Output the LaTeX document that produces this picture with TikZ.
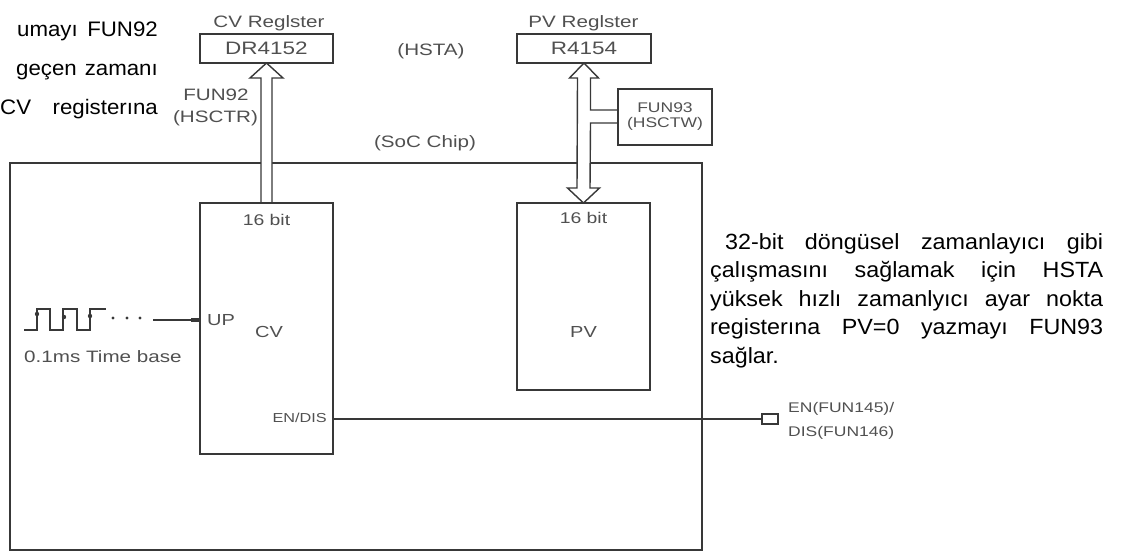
\documentclass[tikz,border=0pt]{standalone}
\usepackage{fontspec}
\setmainfont{Liberation Sans}
\newfontfamily\bodyfont{Liberation Sans}[FakeStretch=1.06]
\newfontfamily\labfont{Liberation Sans}[FakeStretch=1.25]
\usetikzlibrary{calc}
\definecolor{ln}{HTML}{383838}
\definecolor{lab}{HTML}{505050}
\tikzset{
  blk/.style={draw=ln, line width=1.4pt, rectangle, inner sep=0pt, outer sep=0pt, anchor=north west},
  lab/.style={text=lab, inner sep=0pt, font=\labfont\fontsize{#1}{#1}\selectfont},
  lab/.default=16.5,
  body/.style={text=black, inner sep=0pt, font=\bodyfont\fontsize{22}{28}\selectfont},
  lbody/.style={text=black, inner sep=0pt, font=\bodyfont\fontsize{21}{28}\selectfont},
  wire/.style={draw=ln, line width=1.4pt},
  hollow/.style={draw=ln, line width=1.4pt, fill=white, line join=miter},
}
\begin{document}
\begin{tikzpicture}[x=1pt,y=-1pt]
\useasboundingbox (0,0) rectangle (1124,552);

% outer chip
\node[blk, minimum width=692pt, minimum height=387pt] (soc) at (10,163) {};

% registers
\node[blk, minimum width=133pt, minimum height=29pt, lab=18] (cvreg) at (200,34) {DR4152};
\node[blk, minimum width=134pt, minimum height=29pt, lab=18] (pvreg) at (517,34) {R4154};
\node[blk, minimum width=94pt, minimum height=56pt, lab=14, align=center] (fun93) at (618,89) {FUN93\\[1pt](HSCTW)};

% block top anchors
\coordinate (cvtop) at (266.5,203);
\coordinate (pvtop) at (583.5,203);

% CV hollow arrow up
\draw[hollow] ($(cvtop)+(-5.5,0)$) -- ($(cvreg.south)+(-5.5,15)$) -- ($(cvreg.south)+(-16.5,15)$) -- (cvreg.south) -- ($(cvreg.south)+(16.5,15)$) -- ($(cvreg.south)+(5.5,15)$) -- ($(cvtop)+(5.5,0)$);

% PV double hollow arrow with branch to FUN93
\draw[hollow] ($(pvtop)+(-6.5,-15)$) -- ($(pvreg.south)+(-6.5,15)$) -- ($(pvreg.south)+(-14.5,15)$) -- (pvreg.south) -- ($(pvreg.south)+(14.5,15)$) -- ($(pvreg.south)+(6.5,15)$) -- ($(pvreg.south)+(6.5,47)$) -- ($(fun93.north west)+(0,21)$) -- ($(fun93.north west)+(0,34)$) -- ($(pvreg.south)+(6.5,60)$) -- ($(pvtop)+(6.5,-15)$) -- ($(pvtop)+(16,-15)$) -- (pvtop) -- ($(pvtop)+(-16,-15)$) -- cycle;
\draw[ln, line width=1.4pt] (fun93.north west) -- (fun93.south west);

\node[blk, minimum width=133pt, minimum height=251pt] (cv) at (200,203) {};
\node[blk, minimum width=133pt, minimum height=187pt] (pv) at (517,203) {};

% labels
\node[lab, anchor=base] (cvregl) at (269,27) {CV Reglster};
\node[lab, anchor=base] (pvregl) at (583.5,27) {PV Reglster};
\node[lab, anchor=base] (hsta) at (431,55) {(HSTA)};
\node[lab, anchor=base] (fun92) at (216,100) {FUN92};
\node[lab, anchor=base] (hsctr) at (215.5,122) {(HSCTR)};
\node[lab, anchor=base] (socl) at (425,147) {(SoC Chip)};
\node[lab=15.5, anchor=base] (cvbit) at (266.5,225) {16 bit};
\node[lab=15.5, anchor=base] (pvbit) at (583.5,223) {16 bit};
\node[lab=16, anchor=base west] (up) at (207,325) {UP};
\node[lab=16, anchor=base] (cvl) at (269,337) {CV};
\node[lab=16, anchor=base] (pvl) at (583.5,337) {PV};
\node[lab, anchor=base west] (tb) at (24,362) {0.1ms Time base};
\node[lab=13, anchor=base east] (endis) at (327,422) {EN/DIS};
\node[lab=14, anchor=base west] (en1) at (788,412) {EN(FUN145)/};
\node[lab=14, anchor=base west] (en2) at (788,436) {DIS(FUN146)};

% clock waveform
\draw[ln, line width=1.4pt, line join=miter] (24,330) -- (37,330) -- (37,309) -- (50,309) -- (50,330) -- (63,330) -- (63,309) -- (77,309) -- (77,330) -- (90,330) -- (90,309) -- (106,309);
\fill[ln] (37,314) circle (2.2) (64,317) circle (2.2) (90,316) circle (2.2);
\fill[ln] (113,318) circle (1.6) (127,318) circle (1.6) (140,318) circle (1.6);
\coordinate (clk) at (153,320);
\draw[wire] (clk) -- (cv.west |- clk);
\draw[ln, line width=3.5pt] ($(cv.west |- clk)+(-9,0)$) -- (cv.west |- clk);

% EN/DIS wire and pin
\node[blk, anchor=center, minimum width=16pt, minimum height=10pt] (enpin) at (770,419) {};
\draw[wire] (cv.east |- enpin) -- (enpin.west);

% body text left
\node[lbody, anchor=base east] (l1a) at (78,36) {umayı};
\node[lbody, anchor=base east] (l1b) at (158,36) {FUN92};
\node[lbody, anchor=base east] (l2a) at (77,75) {geçen};
\node[lbody, anchor=base east] (l2b) at (158,75) {zamanı};
\node[lbody, anchor=base west] (l3a) at (0,114) {CV};
\node[lbody, anchor=base east] (l3b) at (158,114) {registerına};

% body text right
\node[body, anchor=base west] (r1) at (710,249) {\makebox[393pt][s]{\hspace{15pt}32-bit döngüsel zamanlayıcı gibi}};
\node[body, anchor=base west] (r2) at (710,277.5) {\makebox[393pt][s]{çalışmasını sağlamak için HSTA}};
\node[body, anchor=base west] (r3) at (710,306) {\makebox[393pt][s]{yüksek hızlı zamanlyıcı ayar nokta}};
\node[body, anchor=base west] (r4) at (710,334.5) {\makebox[393pt][s]{registerına PV=0 yazmayı FUN93}};
\node[body, anchor=base west] (r5) at (710,363) {sağlar.};
\end{tikzpicture}
\end{document}
